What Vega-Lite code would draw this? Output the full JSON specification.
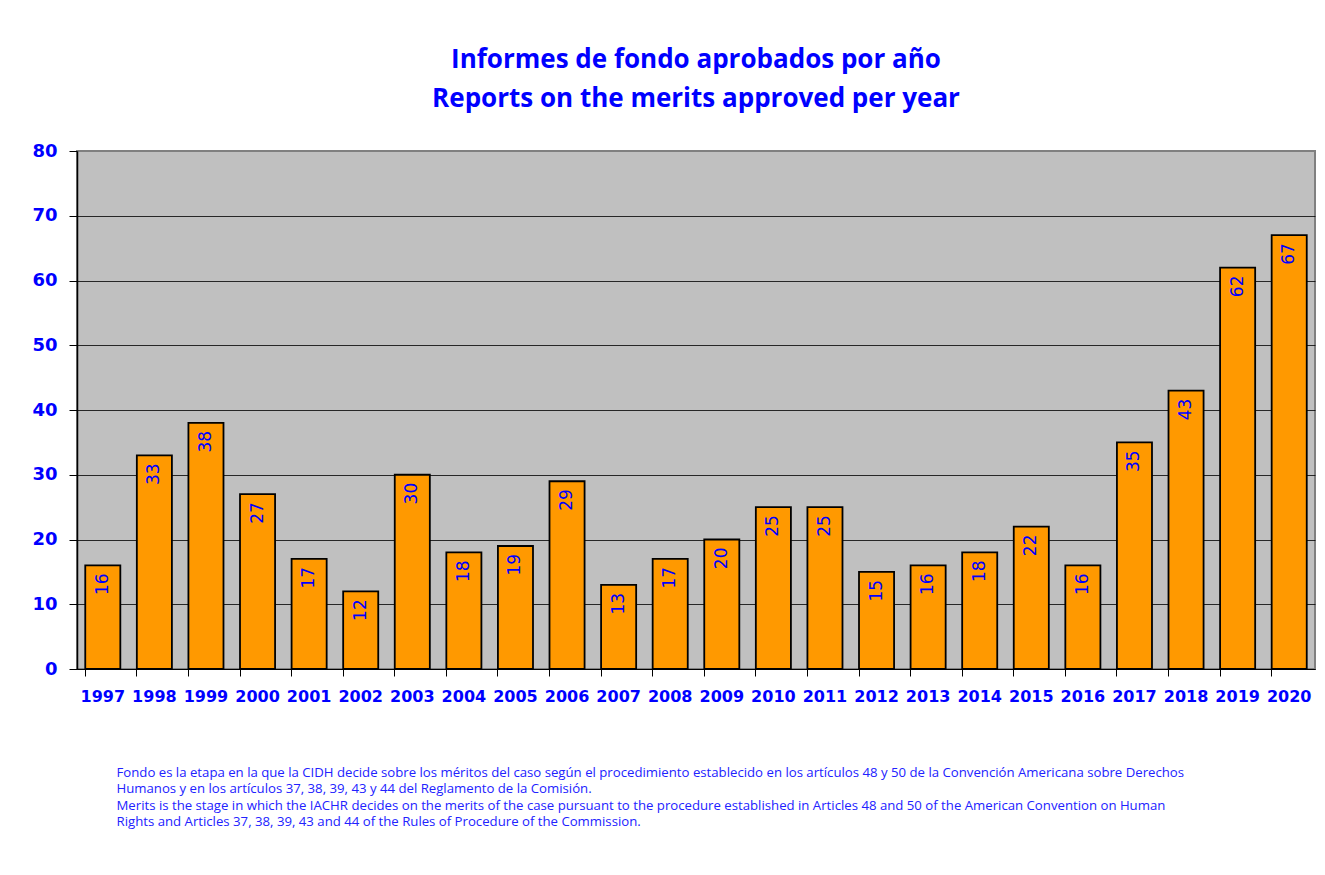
{
  "$schema": "https://vega.github.io/schema/vega-lite/v6.json",
  "width": 1238,
  "height": 518,
  "autosize": {"type": "none"},
  "padding": {"left": 77, "top": 151, "right": 10, "bottom": 206},
  "background": "white",
  "title": {
    "text": ["Informes de fondo aprobados por año", "Reports on the merits approved per year"],
    "font": "Open Sans",
    "fontSize": 26,
    "fontWeight": "bold",
    "color": "#0000FF",
    "anchor": "middle",
    "frame": "group",
    "offset": 30,
    "lineHeight": 39
  },
  "config": {
    "view": {"fill": "#C0C0C0", "stroke": "#808080", "strokeWidth": 2},
    "axis": {"labelFont": "DejaVu Sans", "labelColor": "#0000FF", "labelFontWeight": "bold"}
  },
  "data": {
    "values": [
      {"year": "1997", "n": 16}, {"year": "1998", "n": 33}, {"year": "1999", "n": 38},
      {"year": "2000", "n": 27}, {"year": "2001", "n": 17}, {"year": "2002", "n": 12},
      {"year": "2003", "n": 30}, {"year": "2004", "n": 18}, {"year": "2005", "n": 19},
      {"year": "2006", "n": 29}, {"year": "2007", "n": 13}, {"year": "2008", "n": 17},
      {"year": "2009", "n": 20}, {"year": "2010", "n": 25}, {"year": "2011", "n": 25},
      {"year": "2012", "n": 15}, {"year": "2013", "n": 16}, {"year": "2014", "n": 18},
      {"year": "2015", "n": 22}, {"year": "2016", "n": 16}, {"year": "2017", "n": 35},
      {"year": "2018", "n": 43}, {"year": "2019", "n": 62}, {"year": "2020", "n": 67}
    ]
  },
  "encoding": {
    "x": {
      "field": "year",
      "type": "nominal",
      "sort": null,
      "scale": {"paddingInner": 0.32, "paddingOuter": 0.16},
      "axis": {
        "labelAngle": 0,
        "labelFontSize": 16,
        "labelPadding": 12,
        "tickSize": 7,
        "tickColor": "#000000",
        "bandPosition": 0,
        "domainColor": "#000000",
        "domainWidth": 1,
        "title": [
          "Fondo es la etapa en la que la CIDH decide sobre los méritos del caso según el procedimiento establecido en los artículos 48 y 50 de la Convención Americana sobre Derechos",
          "Humanos y en los artículos 37, 38, 39, 43 y 44 del Reglamento de la Comisión.",
          "Merits is the stage in which the IACHR decides on the  merits of the case pursuant to the procedure established in Articles 48 and 50 of the American Convention on Human",
          "Rights and Articles 37, 38, 39, 43 and 44 of the Rules of Procedure of the Commission."
        ],
        "titleFont": "Open Sans",
        "titleFontSize": 13.2,
        "titleFontWeight": "normal",
        "titleColor": "#2222FF",
        "titleAlign": "left",
        "titleBaseline": "top",
        "titleAnchor": "start",
        "titleX": 39,
        "titleY": 97,
        "titleLineHeight": 16.5
      }
    },
    "y": {
      "field": "n",
      "type": "quantitative",
      "scale": {"domain": [0, 80], "nice": false},
      "axis": {
        "values": [0, 10, 20, 30, 40, 50, 60, 70, 80],
        "title": null,
        "labelFontSize": 18,
        "labelPadding": 12,
        "tickSize": 8,
        "tickColor": "#000000",
        "domainColor": "#000000",
        "domainWidth": 1.5,
        "grid": true,
        "gridColor": {"condition": {"test": "datum.value == 80", "value": "#808080"}, "value": "#000000"},
        "gridOpacity": 0.8,
        "gridWidth": 1
      }
    }
  },
  "layer": [
    {
      "mark": {"type": "bar", "fill": "#FF9900", "stroke": "#000000", "strokeWidth": 1.8}
    },
    {
      "mark": {
        "type": "text",
        "angle": 270,
        "align": "right",
        "baseline": "middle",
        "dx": -8,
        "font": "DejaVu Sans",
        "fontSize": 17,
        "color": "#0000FF"
      },
      "encoding": {"text": {"field": "n", "type": "quantitative"}}
    }
  ]
}
